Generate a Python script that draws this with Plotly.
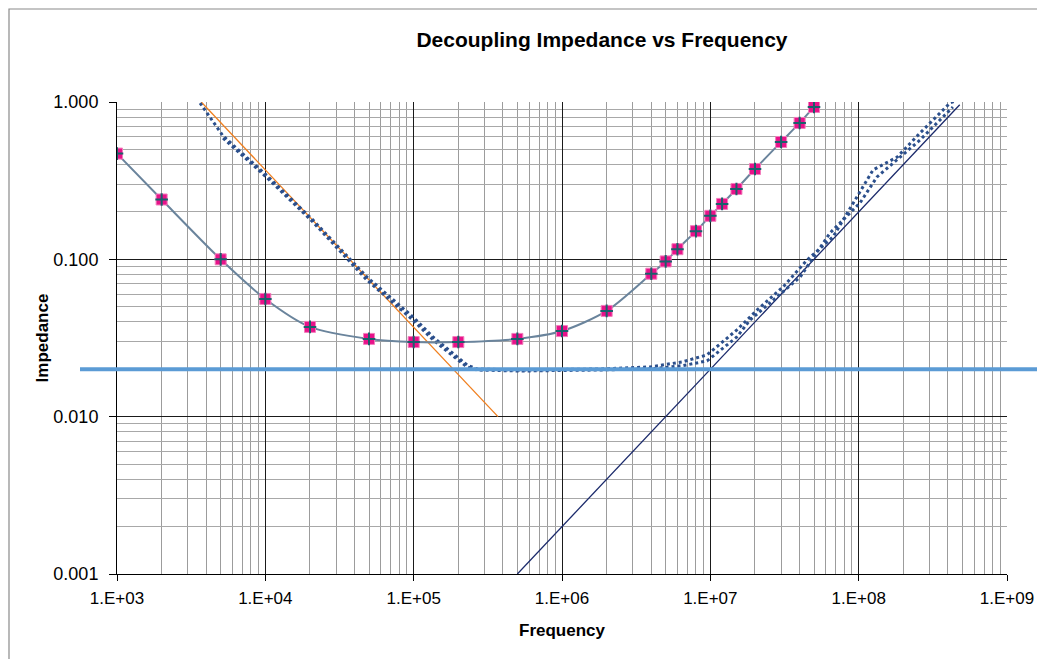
import plotly.graph_objects as go

# ---------------- data ----------------
# measured capacitor bank (markers)
meas_f = [1e3, 2e3, 5e3, 1e4, 2e4, 5e4, 1e5, 2e5, 5e5, 1e6, 2e6, 4e6, 5e6, 6e6, 8e6,
          1e7, 1.2e7, 1.5e7, 2e7, 3e7, 4e7, 5e7]
meas_z = [0.47, 0.24, 0.10, 0.056, 0.0372, 0.0312, 0.0298, 0.0298, 0.0312, 0.035, 0.047,
          0.081, 0.097, 0.116, 0.151, 0.189, 0.225, 0.28, 0.375, 0.557, 0.736, 0.93]

# network impedance A (dotted)
netA_f = [3.63e3, 5.19e3, 1.03e4, 2.09e4, 4.84e4, 9.9e4, 1.35e5, 1.84e5, 2.29e5, 2.67e5,
          5.2e5, 1.8e6, 3.92e6, 6.5e6, 9.5e6, 1.51e7, 2.07e7, 3.09e7, 4.49e7, 6.72e7,
          9.75e7, 1.25e8, 1.82e8, 2.59e8, 4.13e8, 4.82e8]
netA_z = [0.985, 0.608, 0.339, 0.178, 0.0772, 0.043, 0.0321, 0.0254, 0.0213, 0.0201,
          0.0198, 0.0201, 0.0207, 0.0223, 0.0247, 0.0356, 0.0477, 0.0667, 0.099, 0.139,
          0.249, 0.370, 0.447, 0.635, 0.986, 1.04]

# network impedance B (dotted)
netB_f = [5.19e3, 1.03e4, 2.09e4, 4.84e4, 9.9e4, 1.35e5, 1.84e5, 2.29e5, 2.67e5, 5.2e5,
          1.8e6, 3.92e6, 6.5e6, 9.5e6, 1.51e7, 1.85e7, 4.03e7, 6.41e7, 1.02e8, 1.33e8,
          2.59e8, 4.32e8]
netB_z = [0.59, 0.329, 0.173, 0.0739, 0.0411, 0.0308, 0.0243, 0.0207, 0.0198, 0.0195,
          0.0198, 0.0201, 0.0211, 0.0226, 0.0321, 0.0411, 0.0772, 0.147, 0.228, 0.334,
          0.573, 0.929]

# capacitive asymptote (orange) and inductive asymptote (navy)
cap_f = [3.7e3, 3.7e5]
cap_z = [1.0, 0.01]
ind_f = [5e5, 4.8e8]
ind_z = [0.001, 0.96]

# target impedance
target_z = [0.02]

x_tick_vals = [1e3, 1e4, 1e5, 1e6, 1e7, 1e8, 1e9]
x_tick_text = ["1.E+03", "1.E+04", "1.E+05", "1.E+06", "1.E+07", "1.E+08", "1.E+09"]
y_tick_vals = [0.001, 0.01, 0.1, 1.0]
y_tick_text = ["0.001", "0.010", "0.100", "1.000"]

x_minor = [d * 10 ** e for e in range(3, 9) for d in range(2, 10)]
y_minor = [d * 10.0 ** e for e in range(-3, 0) for d in range(2, 10)]

FONT = "Liberation Sans, Arial, sans-serif"

# page places the figure at (8, 8); plot area target is x 117..1007, y 102..574
FIG_W, FIG_H = 1037, 651
ML, MT, MR, MB = 109, 94, 38, 85
PW = FIG_W - ML - MR
PH = FIG_H - MT - MB

fig = go.Figure()

fig.add_trace(go.Scatter(x=cap_f, y=cap_z, mode="lines",
                         line=dict(color="#F07F1E", width=1.3), showlegend=False))
fig.add_trace(go.Scatter(x=ind_f, y=ind_z, mode="lines",
                         line=dict(color="#1B2A6B", width=1.3), showlegend=False))
fig.add_trace(go.Scatter(x=netA_f, y=netA_z, mode="lines",
                         line=dict(color="#2B4F8C", width=3, dash="dot"), showlegend=False))
fig.add_trace(go.Scatter(x=netB_f, y=netB_z, mode="lines",
                         line=dict(color="#2B4F8C", width=3, dash="dot"), showlegend=False))
fig.add_trace(go.Scatter(x=meas_f, y=meas_z, mode="lines+markers",
                         line=dict(color="#6A849C", width=2, shape="spline", smoothing=0.8),
                         marker=dict(symbol="square", size=11, color="#E8128A",
                                     line=dict(color="#F27DBB", width=1)),
                         showlegend=False))
fig.add_trace(go.Scatter(x=meas_f, y=meas_z, mode="markers",
                         marker=dict(symbol="cross-thin-open", size=9, color="#1B5F6C",
                                     line=dict(color="#1B5F6C", width=2)),
                         showlegend=False))

# target impedance line (extends beyond plot area like the original)
fig.add_shape(type="line", xref="paper", yref="y", x0=(80 - 117) / PW, x1=1.1,
              y0=target_z[0], y1=target_z[0],
              line=dict(color="#5B9BD5", width=4), layer="above")

# chart outer border
fig.add_shape(type="rect", xref="paper", yref="paper", x0=(1 - ML) / PW, x1=1.3,
              y0=-0.4, y1=(PH + MT - 1) / PH, line=dict(color="#8A8A8A", width=1.2),
              fillcolor="rgba(0,0,0,0)", layer="below")

fig.update_layout(
    width=FIG_W, height=FIG_H,
    margin=dict(l=ML, r=MR, t=MT, b=MB),
    paper_bgcolor="white", plot_bgcolor="white",
    font=dict(family=FONT, color="black", size=18),
    title=dict(text="<b>Decoupling Impedance vs Frequency</b>", xref="container",
               x=(602 - 8) / FIG_W, xanchor="center", yref="container",
               y=1 - (40 - 8) / FIG_H, yanchor="middle",
               font=dict(size=21, family=FONT, color="black")),
    showlegend=False,
)

fig.update_xaxes(
    type="log", range=[3, 9],
    tickmode="array", tickvals=x_tick_vals, ticktext=x_tick_text,
    ticks="outside", ticklen=6, tickcolor="black", ticklabelstandoff=3,
    showgrid=True, gridcolor="#1A1A1A", gridwidth=1,
    showline=True, linecolor="black", linewidth=1,
    zeroline=False,
    tickfont=dict(size=17, family=FONT),
    title=dict(text="<b>Frequency</b>", font=dict(size=17, family=FONT), standoff=16),
    minor=dict(tickmode="array", tickvals=x_minor, showgrid=True,
               gridcolor="#9C9C9C", gridwidth=1.2, ticks=""),
)
fig.update_yaxes(
    type="log", range=[-3, 0],
    tickmode="array", tickvals=y_tick_vals, ticktext=y_tick_text,
    ticks="outside", ticklen=7, tickcolor="black", ticklabelstandoff=7,
    showgrid=True, gridcolor="#1A1A1A", gridwidth=1,
    showline=True, linecolor="black", linewidth=1,
    zeroline=False,
    tickfont=dict(size=18, family=FONT),
    title=dict(text="<b>Impedance</b>", font=dict(size=17, family=FONT), standoff=0),
    minor=dict(tickmode="array", tickvals=y_minor, showgrid=True,
               gridcolor="#A8A8A8", gridwidth=1, ticks=""),
)

fig.write_html("out.html")
